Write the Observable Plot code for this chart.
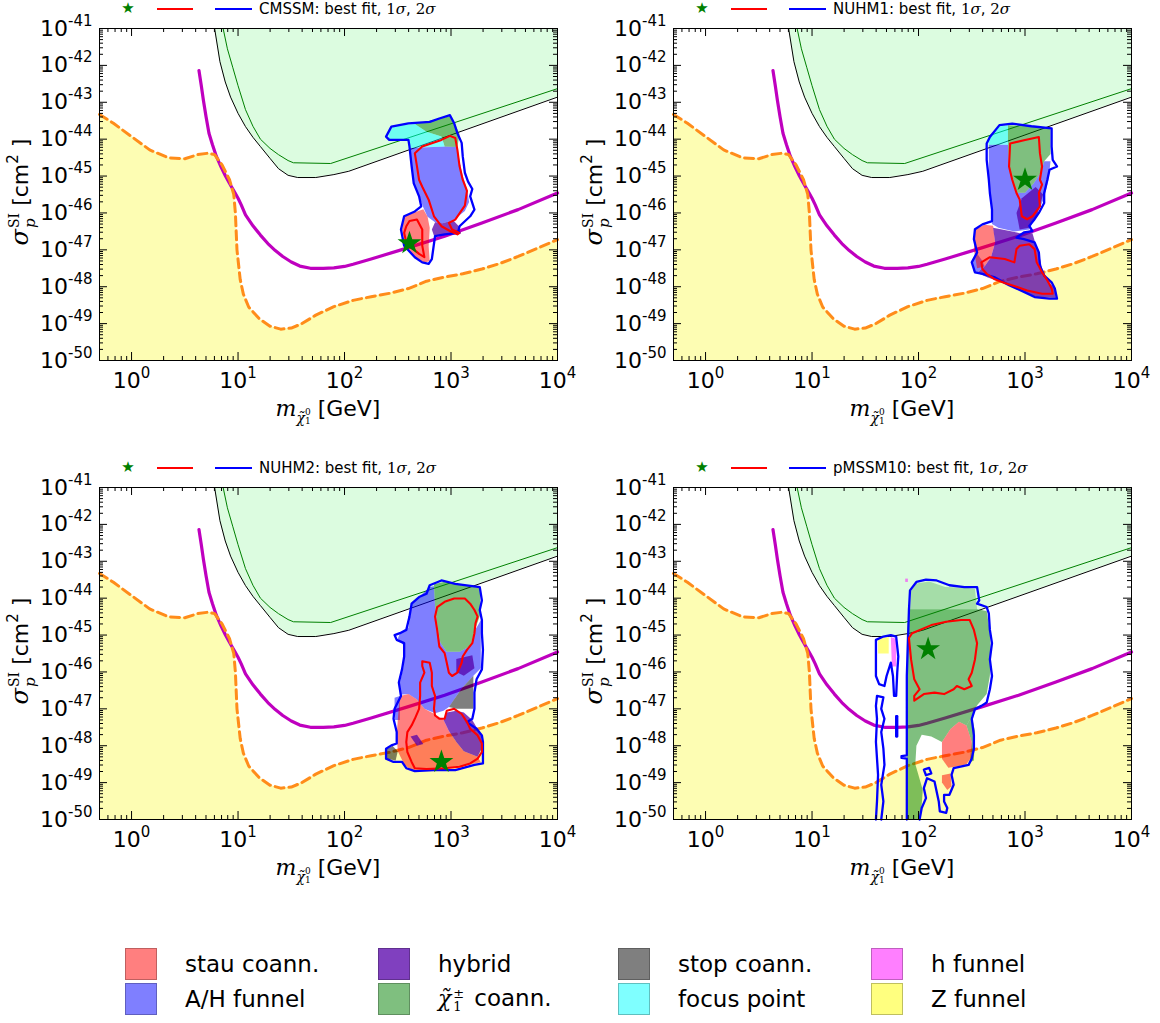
<!DOCTYPE html>
<html><head><meta charset="utf-8">
<script src="https://cdn.jsdelivr.net/npm/d3@7"></script>
<script src="https://cdn.jsdelivr.net/npm/@observablehq/plot@0.6"></script>
<style>
body{margin:0;background:#fff;}
#fig{position:relative;width:1160px;height:1023px;font-family:"DejaVu Sans",sans-serif;color:#000;overflow:hidden;}
.panel{position:absolute;width:580px;height:459px;}
.panel svg{position:absolute;left:0;top:0;}
.abs{position:absolute;white-space:nowrap;}
.ln{position:absolute;height:2.2px;top:8px;}
.mi{font-family:"DejaVu Serif",serif;font-style:italic;}
.mr{font-family:"DejaVu Serif",serif;}
.stack{display:inline-block;vertical-align:middle;line-height:1;text-align:left;}
.stack>span{display:block;}
.sw{position:absolute;width:32px;height:32px;box-sizing:border-box;border:1px solid rgba(0,0,0,0.25);}
.lt{position:absolute;font-size:23px;white-space:nowrap;transform:translateY(-50%);}
</style></head>
<body><div id="fig"></div>
<script>
// ---------- axis ticks ----------
const xMajor = [1, 10, 100, 1000, 10000];
const xMinorMantissa = [2, 3, 4, 5, 6, 7, 8, 9];
const yMajor = [1e-41, 1e-42, 1e-43, 1e-44, 1e-45, 1e-46, 1e-47, 1e-48, 1e-49, 1e-50];

// ---------- common curves, [log10 m (GeV), log10 sigma (cm^2)] ----------
const blackLimit = [[0.78,-41.0],[0.83,-41.9],[0.88,-42.45],[0.93,-42.86],[1.0,-43.3],[1.07,-43.66],[1.14,-43.95],[1.21,-44.2],[1.3,-44.52],[1.38,-44.8],[1.47,-44.98],[1.56,-45.04],[1.73,-45.04],[1.9,-44.96],[2.04,-44.87],[4.0,-42.86]];
const greenLimit = [[0.86,-41.0],[0.9,-41.55],[0.95,-42.05],[1.0,-42.55],[1.07,-43.2],[1.14,-43.65],[1.21,-44.0],[1.3,-44.25],[1.38,-44.42],[1.47,-44.58],[1.52,-44.64],[1.87,-44.66],[4.0,-42.63]];
const magentaCurve = [[0.633,-42.14],[0.655,-42.55],[0.675,-42.95],[0.70,-43.4],[0.727,-43.84],[0.76,-44.15],[0.796,-44.46],[0.84,-44.75],[0.882,-45.0],[0.93,-45.25],[0.97,-45.45],[1.0,-45.6],[1.03,-45.78],[1.07,-46.05],[1.14,-46.35],[1.21,-46.6],[1.28,-46.83],[1.35,-47.02],[1.42,-47.18],[1.5,-47.33],[1.58,-47.44],[1.68,-47.5],[1.8,-47.5],[1.9,-47.49],[2.0,-47.45],[2.08,-47.39],[2.25,-47.25],[2.6,-46.94],[2.94,-46.63],[3.29,-46.27],[3.63,-45.91],[4.0,-45.46]];
const neutrinoFloor = [[-0.301,-43.33],[-0.17,-43.57],[0,-43.93],[0.17,-44.29],[0.35,-44.51],[0.5,-44.53],[0.62,-44.42],[0.72,-44.38],[0.78,-44.42],[0.85,-44.7],[0.92,-45.1],[0.96,-45.5],[0.975,-46.0],[0.99,-47.0],[1.02,-47.8],[1.05,-48.2],[1.1,-48.55],[1.2,-48.87],[1.3,-49.07],[1.4,-49.15],[1.5,-49.12],[1.6,-49.0],[1.73,-48.77],[1.9,-48.54],[2.08,-48.37],[2.25,-48.27],[2.42,-48.18],[2.6,-48.05],[2.77,-47.85],[2.94,-47.74],[3.11,-47.65],[3.29,-47.52],[3.45,-47.38],[3.63,-47.18],[3.8,-46.97],[4.0,-46.72]];

// ---------- CMSSM ----------
const cmssmFocus = [[2.41,-43.84],[2.46,-43.64],[2.66,-43.59],[2.77,-43.8],[2.91,-43.93],[2.94,-44.2],[2.61,-44.24],[2.60,-44.02],[2.42,-44.02]];
const cmssmChargino = [[2.66,-43.59],[2.99,-43.38],[3.04,-43.6],[3.08,-43.86],[3.06,-44.21],[2.94,-44.2],[2.91,-43.93],[2.77,-43.8]];
const cmssmAH = [[2.61,-44.24],[2.94,-44.2],[3.06,-44.21],[3.08,-44.6],[3.11,-45.0],[3.15,-45.35],[3.17,-45.7],[3.13,-45.95],[3.02,-46.2],[2.92,-46.28],[2.85,-46.25],[2.78,-46.1],[2.74,-45.85],[2.70,-45.55],[2.65,-45.2],[2.63,-44.7]];
const cmssmHybrid = [[2.85,-46.25],[2.92,-46.28],[3.02,-46.2],[3.08,-46.38],[3.07,-46.55],[2.95,-46.6],[2.84,-46.62],[2.82,-46.45]];
const cmssmStau = [[2.56,-46.1],[2.66,-45.98],[2.74,-45.9],[2.78,-46.1],[2.80,-46.4],[2.79,-46.9],[2.80,-47.3],[2.75,-47.35],[2.66,-47.2],[2.57,-46.9],[2.54,-46.45]];
const cmssm2s = [[2.39,-43.93],[2.44,-43.66],[2.60,-43.57],[2.80,-43.53],[2.89,-43.44],[2.99,-43.35],[3.03,-43.57],[3.06,-43.84],[3.10,-44.1],[3.11,-44.46],[3.13,-44.91],[3.16,-45.15],[3.20,-45.35],[3.18,-45.55],[3.22,-45.91],[3.18,-46.09],[3.08,-46.36],[3.07,-46.49],[3.08,-46.54],[2.94,-46.58],[2.85,-46.63],[2.82,-47.25],[2.79,-47.38],[2.73,-47.34],[2.66,-47.2],[2.56,-46.89],[2.53,-46.45],[2.56,-46.09],[2.66,-45.96],[2.72,-45.82],[2.70,-45.55],[2.65,-45.2],[2.63,-44.73],[2.61,-44.2],[2.60,-44.02],[2.42,-44.02]];
const cmssm1sA = [[2.66,-44.38],[2.73,-44.2],[2.82,-44.11],[2.91,-44.02],[2.99,-43.91],[3.04,-43.97],[3.06,-44.29],[3.08,-44.73],[3.11,-45.1],[3.15,-45.4],[3.13,-45.8],[3.04,-46.18],[2.98,-46.27],[3.01,-46.45],[3.08,-46.54],[3.06,-46.58],[2.99,-46.49],[2.91,-46.36],[2.84,-46.09],[2.79,-45.64],[2.73,-45.29],[2.70,-45.1],[2.68,-44.73]];
const cmssm1sB = [[2.58,-46.36],[2.61,-46.22],[2.68,-46.18],[2.73,-46.45],[2.73,-46.89],[2.75,-47.2],[2.70,-47.11],[2.63,-46.94],[2.58,-46.8],[2.56,-46.54]];
const cmssmBest = [2.61,-46.82];

// ---------- NUHM1 ----------
const nuhm1Focus = [[2.66,-43.92],[2.76,-43.66],[2.84,-43.62],[2.84,-44.15],[2.66,-44.15]];
const nuhm1Chargino = [[2.84,-43.62],[3.05,-43.65],[3.24,-43.72],[3.24,-44.4],[3.18,-44.6],[3.15,-44.9],[3.08,-45.2],[3.0,-45.45],[2.92,-45.45],[2.88,-45.1],[2.85,-44.7],[2.84,-44.2]];
const nuhm1AH = [[2.66,-44.15],[2.84,-44.15],[2.85,-44.7],[2.88,-45.1],[2.92,-45.45],[3.0,-45.45],[3.08,-45.2],[3.15,-44.9],[3.18,-44.6],[3.24,-44.6],[3.22,-45.1],[3.18,-45.6],[3.1,-46.1],[3.04,-46.45],[2.9,-46.5],[2.75,-46.4],[2.69,-46.3],[2.68,-45.6],[2.66,-45.0]];
const nuhm1HybridA = [[2.97,-45.6],[3.1,-45.3],[3.17,-45.5],[3.12,-46.0],[3.04,-46.4],[2.95,-46.45],[2.92,-46.0]];
const nuhm1Stau = [[2.53,-46.45],[2.62,-46.32],[2.70,-46.35],[2.72,-46.8],[2.68,-47.2],[2.62,-47.45],[2.55,-47.5],[2.52,-47.0]];
const nuhm1HybridB = [[2.70,-46.4],[2.88,-46.5],[2.95,-46.55],[3.07,-46.55],[3.10,-46.85],[3.13,-47.1],[3.16,-47.5],[3.22,-47.85],[3.28,-48.05],[3.29,-48.3],[3.1,-48.28],[2.95,-48.1],[2.8,-47.9],[2.65,-47.75],[2.55,-47.62],[2.62,-47.45],[2.68,-47.2],[2.72,-46.8]];
const nuhm1AHb = [[2.50,-47.3],[2.55,-47.1],[2.6,-47.3],[2.62,-47.45],[2.55,-47.62],[2.52,-47.6]];
const nuhm12s = [[2.76,-43.62],[2.88,-43.58],[3.06,-43.65],[3.25,-43.71],[3.25,-44.2],[3.26,-44.56],[3.30,-44.74],[3.23,-44.83],[3.21,-45.1],[3.18,-45.46],[3.18,-45.73],[3.13,-46.0],[3.09,-46.17],[3.04,-46.35],[3.07,-46.49],[2.99,-46.53],[2.92,-46.67],[2.99,-46.71],[3.09,-46.8],[3.13,-47.07],[3.14,-47.43],[3.18,-47.7],[3.25,-47.88],[3.28,-48.05],[3.30,-48.32],[3.23,-48.32],[3.09,-48.28],[2.99,-48.14],[2.85,-47.96],[2.71,-47.74],[2.60,-47.65],[2.53,-47.61],[2.50,-47.34],[2.55,-47.07],[2.52,-46.71],[2.53,-46.44],[2.60,-46.31],[2.69,-46.22],[2.69,-45.91],[2.67,-45.46],[2.66,-45.1],[2.64,-44.56],[2.64,-44.12],[2.67,-43.94]];
const nuhm11sA = [[2.86,-44.12],[2.99,-44.03],[3.13,-43.94],[3.14,-44.38],[3.16,-44.74],[3.14,-45.1],[3.16,-45.23],[3.13,-45.46],[3.14,-45.82],[3.07,-46.09],[3.02,-46.17],[2.97,-46.09],[2.95,-45.64],[2.92,-45.46],[2.88,-45.1],[2.85,-44.74]];
const nuhm11sB = [[2.59,-47.34],[2.67,-47.2],[2.81,-47.25],[2.90,-47.34],[2.92,-46.98],[2.95,-46.89],[3.04,-46.85],[3.09,-46.98],[3.11,-47.34],[3.16,-47.61],[3.21,-47.83],[3.25,-48.05],[3.26,-48.19],[3.16,-48.19],[3.02,-48.1],[2.92,-48.0],[2.81,-47.9],[2.71,-47.79],[2.64,-47.65],[2.60,-47.52]];
const nuhm1Best = [3.0,-45.1];

// ---------- NUHM2 ----------
const nuhm2Chargino = [[2.84,-43.62],[2.95,-43.55],[3.1,-43.65],[3.27,-43.72],[3.28,-44.4],[3.22,-44.9],[3.18,-45.3],[3.08,-45.45],[2.96,-45.45],[2.90,-45.2],[2.87,-44.7],[2.85,-44.2]];
const nuhm2AH = [[2.63,-44.15],[2.70,-43.97],[2.80,-43.7],[2.84,-43.68],[2.85,-44.2],[2.87,-44.7],[2.90,-45.2],[2.96,-45.45],[3.08,-45.45],[3.18,-45.3],[3.22,-44.9],[3.28,-44.6],[3.28,-45.9],[3.21,-46.1],[3.10,-46.45],[2.98,-46.95],[2.93,-47.05],[2.85,-47.12],[2.75,-47.0],[2.68,-46.75],[2.6,-46.6],[2.52,-46.62],[2.52,-46.3],[2.55,-45.9],[2.56,-45.3],[2.5,-45.1],[2.52,-44.95],[2.6,-44.8],[2.62,-44.4]];
const nuhm2AHb = [[2.47,-46.7],[2.52,-46.65],[2.52,-47.3],[2.47,-47.3]];
const nuhm2HybridA = [[3.05,-45.65],[3.2,-45.55],[3.22,-45.9],[3.12,-46.1],[3.05,-46.0]];
const nuhm2StopA = [[2.98,-46.95],[3.10,-46.45],[3.21,-46.1],[3.21,-47.0],[3.05,-47.0]];
const nuhm2StopB = [[2.39,-48.1],[2.45,-48.0],[2.5,-48.15],[2.48,-48.4],[2.40,-48.35]];
const nuhm2Stau = [[2.52,-46.65],[2.60,-46.6],[2.68,-46.75],[2.75,-47.0],[2.85,-47.15],[2.93,-47.3],[2.98,-47.6],[3.05,-47.9],[3.12,-48.15],[3.25,-48.3],[3.28,-48.45],[3.1,-48.55],[2.85,-48.65],[2.62,-48.65],[2.56,-48.5],[2.5,-48.15],[2.49,-47.7],[2.5,-47.3]];
const nuhm2HybridB = [[2.93,-47.3],[2.96,-47.1],[3.05,-47.05],[3.12,-47.1],[3.2,-47.3],[3.28,-47.7],[3.30,-48.0],[3.25,-48.3],[3.12,-48.15],[3.05,-47.9],[2.98,-47.6]];
const nuhm2HybridC = [[2.62,-47.75],[2.68,-47.7],[2.74,-47.95],[2.68,-48.0]];
const nuhm22s = [[2.80,-43.65],[2.91,-43.52],[3.04,-43.61],[3.27,-43.7],[3.29,-44.06],[3.27,-44.32],[3.29,-44.59],[3.29,-44.95],[3.30,-45.4],[3.29,-45.93],[3.24,-46.2],[3.22,-46.56],[3.22,-47.0],[3.20,-47.27],[3.15,-47.36],[3.24,-47.54],[3.29,-47.72],[3.30,-47.9],[3.30,-48.26],[3.30,-48.48],[3.22,-48.52],[3.04,-48.66],[2.84,-48.66],[2.66,-48.69],[2.58,-48.61],[2.54,-48.44],[2.46,-48.44],[2.39,-48.35],[2.39,-48.08],[2.44,-47.99],[2.49,-47.94],[2.49,-47.63],[2.46,-47.27],[2.47,-47.0],[2.53,-46.65],[2.51,-46.29],[2.54,-45.93],[2.56,-45.58],[2.56,-45.22],[2.49,-45.13],[2.47,-45.0],[2.52,-44.95],[2.58,-44.86],[2.61,-44.5],[2.63,-44.15],[2.70,-43.97],[2.77,-43.88]];
const nuhm21sA = [[2.87,-44.24],[2.94,-44.1],[3.03,-44.01],[3.13,-44.01],[3.18,-44.15],[3.22,-44.32],[3.25,-44.5],[3.23,-44.68],[3.22,-44.95],[3.20,-45.22],[3.15,-45.4],[3.11,-45.58],[3.10,-45.75],[3.06,-46.02],[3.01,-46.11],[2.98,-46.02],[2.96,-45.75],[2.94,-45.49],[2.89,-45.31],[2.87,-44.86],[2.85,-44.5]];
const nuhm21sB = [[2.73,-45.71],[2.80,-45.75],[2.82,-46.02],[2.82,-46.38],[2.85,-46.65],[2.84,-47.0],[2.85,-47.18],[2.89,-47.27],[2.94,-47.27],[2.96,-47.05],[3.03,-47.0],[3.10,-47.14],[3.15,-47.36],[3.18,-47.54],[3.25,-47.72],[3.29,-47.94],[3.29,-48.17],[3.25,-48.35],[3.18,-48.48],[3.08,-48.57],[2.94,-48.61],[2.77,-48.63],[2.66,-48.61],[2.63,-48.44],[2.59,-48.17],[2.58,-47.9],[2.59,-47.63],[2.63,-47.45],[2.66,-47.27],[2.70,-47.0],[2.71,-46.65],[2.71,-46.29],[2.75,-46.02],[2.73,-45.84]];
const nuhm2Best = [2.91,-48.44];

// ---------- pMSSM10 ----------
const p10Chargino = [[1.89,-50],[1.89,-45.0],[1.91,-44.3],[2.55,-44.3],[2.64,-44.35],[2.67,-44.9],[2.68,-45.5],[2.67,-46.1],[2.64,-46.6],[2.55,-46.9],[2.50,-47.2],[2.45,-47.45],[2.38,-47.35],[2.30,-47.55],[2.22,-47.9],[2.12,-47.75],[2.03,-47.7],[1.98,-48.0],[1.97,-48.5],[2.01,-48.9],[2.04,-49.2],[2.03,-49.6],[2.01,-50]];
const p10CharginoTop = [[1.92,-44.3],[1.93,-43.8],[1.98,-43.6],[2.1,-43.55],[2.25,-43.7],[2.45,-43.72],[2.53,-43.75],[2.55,-44.3]];
const p10CharginoB = [[2.45,-47.45],[2.50,-47.2],[2.53,-47.6],[2.52,-48.4],[2.48,-48.45],[2.50,-47.9]];
const p10Stau = [[2.22,-47.9],[2.30,-47.55],[2.38,-47.35],[2.45,-47.45],[2.50,-47.9],[2.50,-48.3],[2.45,-48.5],[2.38,-48.55],[2.28,-48.6],[2.22,-48.35]];
const p10Stau2 = [[2.22,-48.8],[2.30,-48.75],[2.31,-49.1],[2.27,-49.2],[2.22,-49.0]];
const p10Zfun = [[1.62,-45.1],[1.72,-45.05],[1.72,-45.5],[1.62,-45.5]];
const p10Hfun = [[1.74,-45.05],[1.79,-45.1],[1.79,-45.85],[1.75,-45.85]];
const p10Hfun2 = [[1.875,-43.47],[1.9,-43.47],[1.9,-43.56],[1.875,-43.56]];
const p102sMain = [[1.89,-50],[1.89,-48.35],[1.84,-48.33],[1.84,-48.28],[1.89,-48.26],[1.89,-46.11],[1.91,-44.32],[1.92,-43.79],[1.98,-43.56],[2.07,-43.5],[2.17,-43.52],[2.29,-43.65],[2.43,-43.7],[2.55,-43.7],[2.57,-44.06],[2.55,-44.15],[2.64,-44.24],[2.66,-44.41],[2.67,-44.86],[2.69,-45.22],[2.67,-45.66],[2.69,-46.11],[2.67,-46.47],[2.64,-46.83],[2.59,-46.92],[2.53,-47.01],[2.50,-47.27],[2.52,-47.72],[2.52,-48.08],[2.50,-48.35],[2.47,-48.52],[2.33,-48.61],[2.31,-48.79],[2.33,-49.06],[2.29,-49.33],[2.24,-49.33],[2.24,-49.51],[2.27,-49.69],[2.26,-49.82],[2.20,-49.78],[2.19,-49.51],[2.17,-49.24],[2.15,-48.97],[2.08,-48.88],[2.05,-49.15],[2.07,-49.42],[2.03,-49.69],[2.01,-50]];
const p102sIslandA = [[1.60,-45.13],[1.67,-45.04],[1.74,-45.0],[1.79,-45.04],[1.81,-45.58],[1.80,-46.02],[1.79,-46.65],[1.77,-46.65],[1.76,-46.11],[1.74,-45.75],[1.70,-46.11],[1.68,-46.38],[1.63,-46.33],[1.60,-46.11],[1.60,-45.66]];
const p102sIslandB = [[1.60,-50],[1.61,-49.51],[1.62,-48.79],[1.60,-47.9],[1.61,-47.27],[1.60,-46.92],[1.61,-46.65],[1.67,-46.69],[1.65,-47.0],[1.68,-47.27],[1.65,-47.63],[1.67,-48.08],[1.68,-48.52],[1.65,-49.06],[1.67,-49.51],[1.65,-50]];
const p102sDash = [[1.79,-47.2],[1.80,-47.2],[1.80,-47.75],[1.79,-47.75]];
const p102sLoop = [[2.05,-48.65],[2.1,-48.6],[2.12,-48.75],[2.07,-48.8]];
const p101s = [[1.91,-45.08],[1.94,-44.95],[2.12,-44.73],[2.26,-44.64],[2.40,-44.59],[2.48,-44.59],[2.52,-44.86],[2.55,-45.22],[2.53,-45.66],[2.50,-46.02],[2.47,-46.2],[2.50,-46.38],[2.43,-46.47],[2.36,-46.38],[2.33,-46.47],[2.24,-46.6],[2.15,-46.56],[2.05,-46.6],[1.96,-46.78],[1.96,-46.65],[2.01,-46.47],[1.96,-46.2],[1.93,-45.66]];
const p10Best = [2.09,-45.38];

// ---------- region styles & legend ----------
const regionStyle = {
  stau: ["#ff0000", 0.5], ah: ["#0000ff", 0.5], hybrid: ["#5500aa", 0.75], chargino: ["#008000", 0.5],
  stop: ["#000000", 0.5], focus: ["#00ffff", 0.5], hfun: ["#ff00ff", 0.5], zfun: ["#ffff00", 0.5]
};
const legendKeys = ["stau", "ah", "hybrid", "chargino", "stop", "focus", "hfun", "zfun"];
const legendLabels = ["stau coann.", "A/H funnel", "hybrid", "CHI coann.", "stop coann.", "focus point", "h funnel", "Z funnel"];

const panels = [
  {name: "CMSSM", left: 0, top: 0,
   fills: [[cmssmAH,"ah"],[cmssmChargino,"chargino"],[cmssmFocus,"focus"],[cmssmStau,"stau"],[cmssmHybrid,"hybrid"]],
   c2: [cmssm2s], c2open: [], c1: [cmssm1sA, cmssm1sB], best: cmssmBest},
  {name: "NUHM1", left: 574, top: 0,
   fills: [[nuhm1AH,"ah"],[nuhm1AHb,"ah"],[nuhm1Chargino,"chargino"],[nuhm1Focus,"focus"],[nuhm1Stau,"stau"],[nuhm1HybridA,"hybrid"],[nuhm1HybridB,"hybrid"]],
   c2: [nuhm12s], c2open: [], c1: [nuhm11sA, nuhm11sB], best: nuhm1Best},
  {name: "NUHM2", left: 0, top: 459,
   fills: [[nuhm2AH,"ah"],[nuhm2AHb,"ah"],[nuhm2Chargino,"chargino"],[nuhm2Stau,"stau"],[nuhm2StopA,"stop"],[nuhm2StopB,"stop"],[nuhm2HybridA,"hybrid"],[nuhm2HybridB,"hybrid"],[nuhm2HybridC,"hybrid"]],
   c2: [nuhm22s], c2open: [], c1: [nuhm21sA, nuhm21sB], best: nuhm2Best},
  {name: "pMSSM10", left: 574, top: 459,
   fills: [[p10Chargino,"chargino"],[p10CharginoB,"chargino"],[p10Stau,"stau"],[p10Stau2,"stau"],[p10Zfun,"zfun"],[p10Hfun,"hfun"],[p10Hfun2,"hfun"]],
   topFill: p10CharginoTop,
   c2: [p102sIslandA, p102sDash, p102sLoop], c2open: [p102sMain, p102sIslandB], c1: [p101s], best: p10Best}
];

const L = a => a.map(([m, s]) => ({m: 10 ** m, s: 10 ** s}));
const fig = document.getElementById("fig");
const W = 580, H = 420, mL = 99, mR = 23, mT = 28, mB = 60;
const FH = H - mT - mB;
const xMinor = [0.6, 0.7, 0.8, 0.9, ...xMajor.slice(0, 4).flatMap(d => xMinorMantissa.map(k => k * d))];
const yMinor = yMajor.slice(1).flatMap(d => xMinorMantissa.map(k => k * d));

function superscriptTicks(svg) {
  svg.querySelectorAll("text").forEach(t => {
    const m = /^10\^(.+)$/.exec(t.textContent);
    if (!m) return;
    t.textContent = "10";
    const sp = document.createElementNS("http://www.w3.org/2000/svg", "tspan");
    sp.setAttribute("font-size", "15");
    sp.setAttribute("dy", "-10");
    sp.textContent = m[1];
    t.appendChild(sp);
  });
}

for (const p of panels) {
  const div = document.createElement("div");
  div.className = "panel";
  div.style.left = p.left + "px";
  div.style.top = p.top + "px";
  fig.appendChild(div);
  const lineOpts = {x: "m", y: "s"};
  const marks = [
    Plot.areaY(L(neutrinoFloor), {x: "m", y1: () => 1e-50, y2: "s", fill: "#fdfdb3"}),
    Plot.areaY(L(blackLimit), {x: "m", y1: "s", y2: () => 1e-41, fill: "#dcfce0"}),
    Plot.line(L(blackLimit), {...lineOpts, stroke: "#000", strokeWidth: 1}),
    Plot.line(L(greenLimit), {...lineOpts, stroke: "#008000", strokeWidth: 1}),
    Plot.line(L(magentaCurve), {...lineOpts, stroke: "#bf00bf", strokeWidth: 3.2}),
    Plot.line(L(neutrinoFloor), {...lineOpts, stroke: "#ff8c1a", strokeWidth: 3, strokeDasharray: "9,5"})
  ];
  if (p.topFill) marks.push(Plot.line(L(p.topFill), {...lineOpts, fill: "#008000", fillOpacity: 0.25, stroke: "none", curve: "linear-closed"}));
  for (const [poly, key] of p.fills) {
    marks.push(Plot.line(L(poly), {...lineOpts, fill: regionStyle[key][0], fillOpacity: regionStyle[key][1], stroke: "none", curve: "linear-closed"}));
  }
  for (const c of p.c2) marks.push(Plot.line(L(c), {...lineOpts, stroke: "#0000ff", strokeWidth: 2.3, curve: "linear-closed"}));
  for (const c of p.c2open) marks.push(Plot.line(L(c), {...lineOpts, stroke: "#0000ff", strokeWidth: 2.3}));
  for (const c of p.c1) marks.push(Plot.line(L(c), {...lineOpts, stroke: "#ff0000", strokeWidth: 2.1, curve: "linear-closed"}));
  marks.push(Plot.dot(L([p.best]), {x: "m", y: "s", symbol: "star", r: 7.5, fill: "#008000", stroke: "none"}));
  // inward ticks on all four sides
  marks.push(
    Plot.tickX(xMajor, {x: d => d, insetTop: FH - 8, stroke: "#000"}),
    Plot.tickX(xMajor, {x: d => d, insetBottom: FH - 8, stroke: "#000"}),
    Plot.tickX(xMinor, {x: d => d, insetTop: FH - 4, stroke: "#000"}),
    Plot.tickX(xMinor, {x: d => d, insetBottom: FH - 4, stroke: "#000"}),
    Plot.tickY(yMajor, {y: d => d, insetRight: (W - mL - mR) - 8, stroke: "#000"}),
    Plot.tickY(yMajor, {y: d => d, insetLeft: (W - mL - mR) - 8, stroke: "#000"}),
    Plot.tickY(yMinor, {y: d => d, insetRight: (W - mL - mR) - 4, stroke: "#000"}),
    Plot.tickY(yMinor, {y: d => d, insetLeft: (W - mL - mR) - 4, stroke: "#000"}),
    Plot.frame({stroke: "#000", strokeWidth: 1})
  );
  const svg = Plot.plot({
    width: W, height: H, marginLeft: mL, marginRight: mR, marginTop: mT, marginBottom: mB,
    style: {background: "transparent", overflow: "visible", fontSize: "22px", fontFamily: "DejaVu Sans", color: "#000"},
    x: {type: "log", domain: [0.5, 1e4], ticks: xMajor, tickFormat: d => "10^" + Math.round(Math.log10(d)), tickSize: 0, tickPadding: 12, label: null},
    y: {type: "log", domain: [1e-50, 1e-41], ticks: yMajor, tickFormat: d => "10^-" + Math.round(-Math.log10(d)), tickSize: 0, tickPadding: 7, label: null},
    marks
  });
  superscriptTicks(svg);
  div.appendChild(svg);

  // header legend
  const hdr = document.createElement("div");
  hdr.innerHTML =
    `<span class="abs" style="left:128px;top:8px;transform:translate(-50%,-50%);color:#008000;font-size:15px">★</span>` +
    `<div class="ln" style="left:157px;width:36px;background:#ff0000"></div>` +
    `<div class="ln" style="left:215px;width:37px;background:#0000ff"></div>` +
    `<span class="abs" style="left:259px;top:9px;transform:translateY(-50%);font-size:15px">${p.name}: best fit, <span class="mr">1<i>σ</i></span>, <span class="mr">2<i>σ</i></span></span>`;
  div.appendChild(hdr);

  // y axis title
  const yl = document.createElement("div");
  yl.className = "abs";
  yl.style.cssText = "left:22px;top:192px;transform:translate(-50%,-50%) rotate(-90deg);font-size:22px;";
  yl.innerHTML = `<span class="mi" style="font-size:24px">σ</span><span class="stack" style="font-size:14px;margin-left:1px"><span class="mr">SI</span><span class="mi" style="font-size:15px;margin-top:2px">p</span></span> [cm<span style="font-size:15px;position:relative;top:-10px">2</span> ]`;
  div.appendChild(yl);

  // x axis title
  const xl = document.createElement("div");
  xl.className = "abs";
  xl.style.cssText = "left:328px;top:408px;transform:translate(-50%,-50%);font-size:22px;";
  xl.innerHTML = `<span class="mi" style="font-size:22px">m</span><span style="position:relative;top:7px"><span class="mi" style="font-size:14px">χ̃</span><span class="stack" style="font-size:9px"><span class="mr">0</span><span class="mr">1</span></span></span> [GeV]`;
  div.appendChild(xl);
}

// bottom legend
const colX = [125, 378, 618, 871];
const rowY = [948, 983];
legendKeys.forEach((key, i) => {
  const col = Math.floor(i / 2), row = i % 2;
  const sw = document.createElement("div");
  sw.className = "sw";
  const [c, o] = regionStyle[key];
  const rgb = d3.rgb(c);
  sw.style.background = `rgba(${rgb.r},${rgb.g},${rgb.b},${o})`;
  sw.style.left = colX[col] + "px";
  sw.style.top = rowY[row] + "px";
  fig.appendChild(sw);
  const t = document.createElement("div");
  t.className = "lt";
  t.style.left = (colX[col] + 60) + "px";
  t.style.top = (rowY[row] + 16) + "px";
  if (legendLabels[i] === "CHI coann.") {
    t.innerHTML = `<span class="mi" style="font-size:22px;line-height:26px">χ̃</span><span style="display:inline-block;vertical-align:middle;font-size:13px;line-height:13px;margin-left:2px;font-family:'DejaVu Serif',serif"><span style="display:block">±</span><span style="display:block">1</span></span><span style="margin-left:10px">coann.</span>`;
  } else {
    t.textContent = legendLabels[i];
  }
  fig.appendChild(t);
});
</script>
</body></html>
